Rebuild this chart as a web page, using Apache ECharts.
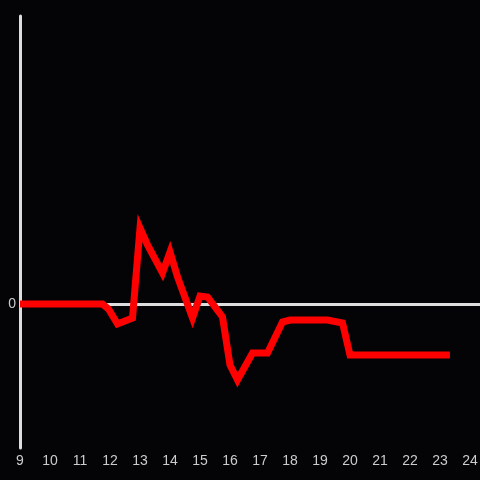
<!DOCTYPE html>
<html><head><meta charset="utf-8">
<script src="https://cdn.jsdelivr.net/npm/echarts@6/dist/echarts.min.js"></script>
<style>html,body{margin:0;padding:0;background:#040306;}#c{width:480px;height:480px;}</style>
</head><body><div id="c"></div>
<script>
const xValues = [9, 11.75, 11.95, 12.25, 12.75, 13, 13.25, 13.75, 14, 14.25, 14.75, 15, 15.25, 15.75, 16, 16.25, 16.75, 17.25, 17.75, 18, 19.25, 19.75, 20, 23.33];
const yValues = [0, 0, -5, -20, -14, 76, 59, 31, 52, 27, -14, 8, 7, -13, -61, -76, -49, -49, -18, -16, -16, -19, -51, -51];
const zeroLine = 0;

const data = xValues.map((x, i) => [x, yValues[i]]);
const chart = echarts.init(document.getElementById('c'));
chart.setOption({
  backgroundColor: '#040306',
  animation: false,
  grid: { left: 20, right: 0, top: 16, bottom: 32, outerBoundsMode: 'none', containLabel: false },
  xAxis: {
    type: 'value', min: 9, max: 24.333, interval: 1,
    axisLine: { show: false }, axisTick: { show: false }, splitLine: { show: false },
    axisLabel: { color: '#cccccc', fontSize: 14, margin: 6, showMaxLabel: true,
      formatter: v => (Math.abs(v - Math.round(v)) < 1e-6 ? String(Math.round(v)) : '') }
  },
  yAxis: {
    type: 'value', min: -144, max: 288, interval: 144,
    axisLine: { show: true, onZero: false, lineStyle: { color: '#dddddd', width: 3 } },
    axisTick: { show: false }, splitLine: { show: false },
    axisLabel: { color: '#cccccc', fontSize: 14, margin: 4, formatter: v => (v === 0 ? '0' : '') }
  },
  series: [{
    type: 'line', data: data, showSymbol: false, symbol: 'none',
    lineStyle: { color: '#ff0000', width: 7, join: 'miter' },
    markLine: {
      silent: true, symbol: 'none', label: { show: false }, z: 1,
      lineStyle: { color: '#dddddd', width: 3, type: 'solid' },
      data: [{ yAxis: zeroLine }]
    }
  }]
});
</script></body></html>
